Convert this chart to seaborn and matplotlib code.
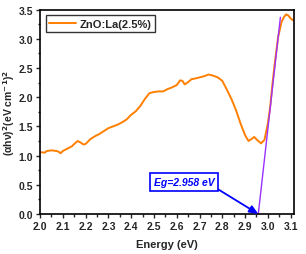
import matplotlib

matplotlib.use("Agg")
import matplotlib.pyplot as plt
import pandas as pd
import seaborn as sns
from matplotlib.ticker import MultipleLocator

# Tauc plot data
energy = [
    2.00, 2.02, 2.03, 2.05, 2.07, 2.08, 2.09, 2.10, 2.12, 2.14,
    2.15, 2.165, 2.18, 2.19, 2.20, 2.22, 2.24, 2.26, 2.28, 2.30,
    2.32, 2.34, 2.36, 2.38, 2.40, 2.42, 2.44, 2.46, 2.48, 2.50,
    2.52, 2.54, 2.56, 2.58, 2.60, 2.615, 2.625, 2.635, 2.65, 2.665,
    2.68, 2.70, 2.72, 2.74, 2.76, 2.78, 2.80, 2.82, 2.84, 2.86,
    2.88, 2.90, 2.915, 2.93, 2.94, 2.955, 2.97, 2.985, 3.00, 3.01,
    3.02, 3.03, 3.045, 3.06, 3.07, 3.08, 3.09, 3.10, 3.11,
]
ahv_sq = [
    1.06, 1.05, 1.08, 1.09, 1.08, 1.07, 1.04, 1.08, 1.12, 1.16,
    1.20, 1.25, 1.22, 1.19, 1.20, 1.28, 1.33, 1.37, 1.42, 1.47,
    1.50, 1.53, 1.57, 1.62, 1.70, 1.76, 1.85, 1.97, 2.07, 2.09,
    2.10, 2.10, 2.14, 2.17, 2.21, 2.29, 2.28, 2.22, 2.26, 2.31,
    2.32, 2.34, 2.36, 2.39, 2.37, 2.34, 2.28, 2.13, 1.97, 1.78,
    1.55, 1.35, 1.25, 1.29, 1.32, 1.26, 1.21, 1.27, 1.55, 1.83,
    2.22, 2.57, 3.03, 3.29, 3.37, 3.42, 3.40, 3.35, 3.32,
]

# linear fit of the absorption edge
fit_energy = [2.958, 3.055]
fit_values = [0.0, 3.37]

band_gap = 2.958
series_label = "ZnO:La(2.5%)"

sns.set_style("ticks")
plt.rcParams["font.family"] = ["Liberation Sans", "DejaVu Sans"]
plt.rcParams["font.weight"] = "bold"
plt.rcParams["mathtext.default"] = "bf"

df = pd.DataFrame({"energy": energy, "value": ahv_sq})
fit_df = pd.DataFrame({"energy": fit_energy, "value": fit_values})

fig = plt.figure(figsize=(3.06, 2.55), dpi=100)
ax = fig.add_axes([0.131, 0.157, 0.830, 0.801])

sns.lineplot(
    data=df, x="energy", y="value", ax=ax, color="#FF7F00",
    linewidth=1.4, label=series_label,
)
sns.lineplot(
    data=fit_df, x="energy", y="value", ax=ax, color="#9B30FF",
    linewidth=1.0, label="_fit",
)

ax.annotate(
    f"Eg={band_gap} eV",
    xy=(band_gap, 0.0),
    xytext=(2.631, 0.55),
    color="#0000FF",
    fontsize=7.5,
    fontweight="bold",
    fontstyle="italic",
    ha="center",
    va="center",
    bbox=dict(boxstyle="square,pad=0.35", fc="white", ec="#0000FF", lw=1.2),
    arrowprops=dict(
        arrowstyle="-|>,head_length=0.7,head_width=0.3",
        color="#0000FF", lw=1.3, relpos=(1.0, 0.0), shrinkA=0, shrinkB=0,
    ),
)

ax.set_xlim(2.0, 3.115)
ax.set_ylim(0.0, 3.5)
ax.xaxis.set_major_locator(MultipleLocator(0.1))
ax.xaxis.set_minor_locator(MultipleLocator(0.05))
ax.yaxis.set_major_locator(MultipleLocator(0.5))
ax.yaxis.set_minor_locator(MultipleLocator(0.25))
ax.tick_params(which="major", length=3, width=1, labelsize=7.5, pad=2)
ax.tick_params(which="minor", length=1.8, width=1)
for lab in ax.get_xticklabels() + ax.get_yticklabels():
    lab.set_fontweight("bold")

for side in ["top", "right", "left", "bottom"]:
    ax.spines[side].set_visible(True)
    ax.spines[side].set_linewidth(1.2)
    ax.spines[side].set_color("black")

ax.set_xlabel("Energy (eV)", fontsize=8, fontweight="bold", labelpad=6)
ax.set_ylabel("(αhν)$^2$(eV cm$^{-1}$)$^2$", fontsize=7.5, fontweight="bold")
ax.yaxis.set_label_coords(-0.092, 0.5)

leg = ax.legend(
    loc="upper left", frameon=True, fancybox=False, fontsize=8,
    handlelength=2.4, borderpad=0.3, borderaxespad=0.5, handletextpad=0.4,
)
leg.get_frame().set_edgecolor("black")
leg.get_frame().set_linewidth(1.0)
for t in leg.get_texts():
    t.set_fontweight("bold")

fig.savefig("out.png", dpi=100)
